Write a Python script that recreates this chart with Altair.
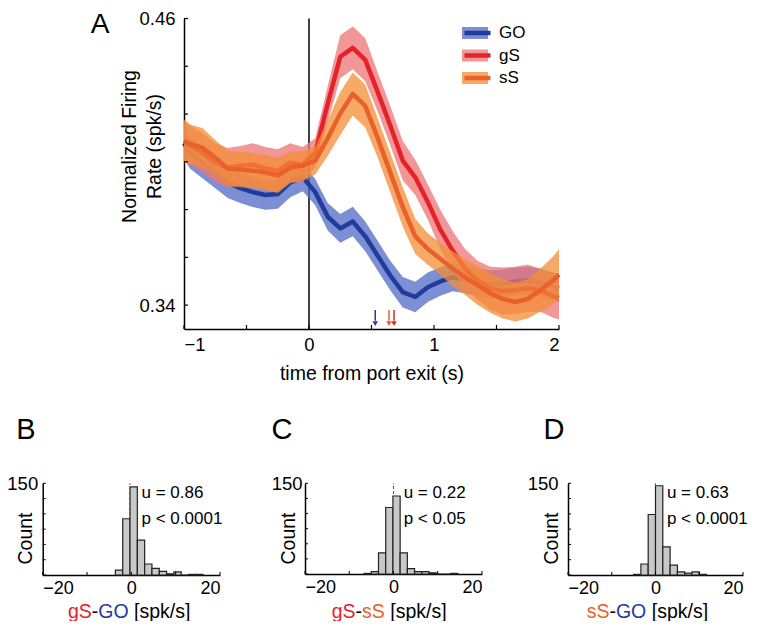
import altair as alt
import pandas as pd

FONT = "Liberation Sans"

# ---------------- Panel A data ----------------
T = [-1.05, -0.95, -0.85, -0.75, -0.65, -0.55, -0.45, -0.35, -0.25, -0.15, -0.05,
     0.05, 0.15, 0.25, 0.35, 0.45, 0.55, 0.65, 0.75, 0.85, 0.95, 1.05, 1.15, 1.25,
     1.35, 1.45, 1.55, 1.65, 1.75, 1.85, 1.95, 2.05]

GO_mean = [0.4078, 0.4037, 0.3996, 0.3955, 0.3914, 0.3890, 0.3873, 0.3861, 0.3865, 0.3914,
           0.3935, 0.3873, 0.3770, 0.3721, 0.3750, 0.3688, 0.3606, 0.3524, 0.3454, 0.3434,
           0.3475, 0.3499, 0.3516, 0.3508, 0.3495, 0.3487, 0.3491, 0.3499, 0.3503, 0.3495,
           0.3479, 0.3471]
gS_mean = [0.4087, 0.4070, 0.4037, 0.3996, 0.3976, 0.3984, 0.3988, 0.3972, 0.3963, 0.3996,
           0.3988, 0.4037, 0.4243, 0.4440, 0.4477, 0.4427, 0.4292, 0.4152, 0.4005, 0.3935,
           0.3832, 0.3717, 0.3627, 0.3552, 0.3503, 0.3471, 0.3458, 0.3462, 0.3471, 0.3462,
           0.3438, 0.3430]
sS_mean = [0.4087, 0.4074, 0.4058, 0.4017, 0.3972, 0.3968, 0.3963, 0.3955, 0.3943, 0.3976,
           0.3984, 0.4005, 0.4099, 0.4202, 0.4284, 0.4234, 0.4099, 0.3955, 0.3811, 0.3688,
           0.3635, 0.3594, 0.3552, 0.3516, 0.3483, 0.3450, 0.3426, 0.3413, 0.3426, 0.3462,
           0.3503, 0.3528]

GO_sem = [0.0066, 0.0066, 0.0066, 0.0066, 0.0066, 0.0062, 0.0062, 0.0062, 0.0062, 0.0062,
          0.0058, 0.0055, 0.0058, 0.0060, 0.0062, 0.0062, 0.0062, 0.0062, 0.0064, 0.0064,
          0.0062, 0.0060, 0.0058, 0.0058, 0.0058, 0.0058, 0.0058, 0.0058, 0.0058, 0.0058,
          0.0058, 0.0058]
gS_sem = [0.0082, 0.0082, 0.0082, 0.0082, 0.0082, 0.0082, 0.0090, 0.0090, 0.0090, 0.0082,
          0.0074, 0.0062, 0.0074, 0.0090, 0.0090, 0.0090, 0.0082, 0.0082, 0.0082, 0.0074,
          0.0074, 0.0082, 0.0082, 0.0082, 0.0082, 0.0090, 0.0099, 0.0099, 0.0099, 0.0090,
          0.0090, 0.0090]
sS_sem = [0.0090, 0.0082, 0.0082, 0.0074, 0.0074, 0.0074, 0.0074, 0.0074, 0.0074, 0.0066,
          0.0062, 0.0058, 0.0074, 0.0090, 0.0090, 0.0090, 0.0082, 0.0082, 0.0082, 0.0074,
          0.0066, 0.0066, 0.0074, 0.0074, 0.0082, 0.0082, 0.0082, 0.0082, 0.0082, 0.0090,
          0.0099, 0.0107]

SERIES = ["GO", "gS", "sS"]
LINE_COLORS = ["#213c9c", "#e4222a", "#e8602c"]
BAND_COLORS = ["#5069c6", "#ee7474", "#f48e36"]

ARROW_T = [0.53, 0.64, 0.68]
ARROW_COLORS = ["#213c9c", "#e8602c", "#e4222a"]

X_TICKS_A = [-1, -0.5, 0, 0.5, 1, 1.5, 2]
X_LABELS_A = [-1, 0, 1, 2]
Y_TICKS_A = [0.34, 0.36, 0.38, 0.40, 0.42, 0.44, 0.46]
Y_LABELS_A = [0.34, 0.46]

# ---------------- Histogram data ----------------
B_bin_lo = [-3.6, -1.95, -0.3, 1.35, 3.0, 4.65, 6.3, 7.95, 9.6, 11.25, 12.9, 14.55]
B_counts = [8, 92, 144, 57, 18, 11, 6, 2, 5, 0, 1, 1]
C_bin_lo = [-6.65, -5.02, -3.39, -1.76, -0.13, 1.5, 3.13, 4.76, 6.39, 8.02, 9.65, 11.28, 12.91]
C_counts = [1, 4, 35, 110, 129, 35, 9, 4, 4, 2, 0, 0, 1]
D_bin_lo = [-5.0, -3.34, -1.67, 0.0, 1.67, 3.34, 5.0, 6.67, 8.34, 10.0]
D_counts = [1, 18, 99, 146, 46, 16, 5, 3, 5, 1]
BIN_W = [1.65, 1.63, 1.67]
H_X_TICKS = [-20, -10, 0, 10, 20]
H_X_LABELS = [-20, 0, 20]
H_Y_TICKS = [0, 25, 50, 75, 100, 125, 150]
H_Y_LABELS = [150]
U_TEXT = ["u = 0.86", "u = 0.22", "u = 0.63"]
P_TEXT = ["p < 0.0001", "p < 0.05", "p < 0.0001"]
TXT_X = [2.3, 2.3, 2.6]
TXT_Y = [134, 91]
DASH_X = [-0.3, 0.0, 0.0]
LETTERS = ["B", "C", "D"]
XLAB_A = ["gS", "gS", "sS"]
XLAB_B = ["GO", "sS", "GO"]
XLAB_UNIT = "[spk/s]"
XLAB_COL_A = ["#e4222a", "#e4222a", "#e8602c"]
XLAB_COL_B = ["#213c9c", "#e8602c", "#213c9c"]

# ---------------- layout (pixels inside the 744x613 view) ----------------
VW, VH = 744, 613
A_X = [176, 551]
A_Y = [321, 10.5]
H_XR = [[34.7, 212], [297, 474], [560, 735]]
H_YR = [[567, 475.3], [566, 475.3], [567, 475.3]]
H_YLAB_PAD = [5, 3, 10]
LETTER_POS = [(18, 431), (274, 431), (546, 431)]
XLAB_POS = [(60, 609.5), (323.7, 609.5), (578.7, 609.5)]
XLAB_FS = 19.5
TICK = 4
# Arial/Liberation Sans advance widths (em) for the characters of the x labels
ADV = {"g": 0.556, "S": 0.667, "s": 0.5, "G": 0.778, "O": 0.778, "-": 0.333, " ": 0.278}

rows = []
for name, m, s in zip(SERIES, [GO_mean, gS_mean, sS_mean], [GO_sem, gS_sem, sS_sem]):
    for t, mv, sv in zip(T, m, s):
        rows.append({"series": name, "series_s": name + " ", "t": t, "mean": mv,
                     "lo": mv - sv, "hi": mv + sv})
dfA = pd.DataFrame(rows)


def xA():
    return alt.Scale(domain=[-1, 2], range=A_X, nice=False, zero=False, clamp=True)


def yA():
    return alt.Scale(domain=[0.33, 0.46], range=A_Y, nice=False, zero=False)


fill_scale = alt.Scale(domain=SERIES, range=BAND_COLORS)
stroke_scale = alt.Scale(domain=[s + " " for s in SERIES], range=LINE_COLORS)

leg_common = dict(orient="none", legendX=454, legendY=16.5, title=None, symbolSize=676,
                  labelFontSize=17, labelFont=FONT, labelOffset=11, clipHeight=17,
                  rowPadding=4.5, padding=0)
legend_fill = alt.Legend(symbolType="M-1,-0.46H1V0.46H-1Z", symbolOpacity=0.75,
                         symbolStrokeWidth=0, **leg_common)
legend_stroke = alt.Legend(symbolType="stroke", symbolStrokeWidth=4.5, labelExpr="''",
                           **leg_common)

lab_axis_x = alt.Axis(orient="bottom", offset=-(VH - A_Y[0]), values=X_LABELS_A,
                      format="d", ticks=False, tickSize=0, labelPadding=6,
                      labelFontSize=18.5, domain=True, domainColor="black",
                      domainWidth=1.5, grid=False, title="time from port exit (s)",
                      titleFontSize=19.5, titleFontWeight="normal", titleY=50,
                      titleBaseline="alphabetic", titleX=(A_X[0] + A_X[1]) / 2,
                      titleAlign="center")
lab_axis_y = alt.Axis(orient="left", offset=-A_X[0], values=Y_LABELS_A, format=".2f",
                      ticks=False, tickSize=0, labelPadding=9, labelFontSize=18.5,
                      domain=True, domainColor="black", domainWidth=1.5, grid=False,
                      title=["Normalized Firing", "Rate (spk/s)"], titleFontSize=19.5,
                      titleFontWeight="normal", titleAngle=270, titleX=-55,
                      titleY=138, titleBaseline="middle", titleAlign="center",
                      titleLineHeight=25)

layers = []
# zero line
layers.append(alt.Chart(pd.DataFrame({"t": [0], "y0": [0.33], "y1": [0.46]})).mark_rule(
    color="black", strokeWidth=1.5).encode(
    x=alt.X("t:Q", scale=xA(), axis=None), y=alt.Y("y0:Q", scale=yA(), axis=None),
    y2="y1:Q"))
for i, name in enumerate(SERIES):
    lx = lab_axis_x if i == 0 else None
    ly = lab_axis_y if i == 0 else None
    band = alt.Chart(dfA).transform_filter(alt.datum.series == name).mark_area(
        opacity=0.75).encode(
        x=alt.X("t:Q", scale=xA(), axis=lx),
        y=alt.Y("lo:Q", scale=yA(), axis=ly),
        y2="hi:Q",
        fill=alt.Fill("series:N", scale=fill_scale, legend=legend_fill))
    line = alt.Chart(dfA).transform_filter(alt.datum.series == name).mark_line(
        strokeWidth=4.5, strokeJoin="round").encode(
        x=alt.X("t:Q", scale=xA(), axis=None),
        y=alt.Y("mean:Q", scale=yA(), axis=None),
        stroke=alt.Stroke("series_s:N", scale=stroke_scale, legend=legend_stroke))
    layers += [band, line]

# inward ticks of panel A
layers.append(alt.Chart(pd.DataFrame({"x": X_TICKS_A, "y": [0.33] * len(X_TICKS_A)})).mark_rule(
    color="black", strokeWidth=1.2).encode(
    x=alt.X("x:Q", scale=xA(), axis=None), y=alt.Y("y:Q", scale=yA(), axis=None),
    y2=alt.value(A_Y[0] - TICK)))
layers.append(alt.Chart(pd.DataFrame({"y": Y_TICKS_A, "x": [-1] * len(Y_TICKS_A)})).mark_rule(
    color="black", strokeWidth=1.2).encode(
    y=alt.Y("y:Q", scale=yA(), axis=None), x=alt.X("x:Q", scale=xA(), axis=None),
    x2=alt.value(A_X[0] + TICK)))

dfArr = pd.DataFrame({"t": ARROW_T, "col": ARROW_COLORS, "y0": [0.3380] * 3,
                      "y1": [0.3335] * 3, "yh": [0.3322] * 3})
layers.append(alt.Chart(dfArr).mark_rule(strokeWidth=1.5).encode(
    x=alt.X("t:Q", scale=xA(), axis=None), y=alt.Y("y0:Q", scale=yA(), axis=None),
    y2="y1:Q", color=alt.Color("col:N", scale=None, legend=None)))
layers.append(alt.Chart(dfArr).mark_point(shape="triangle-down", filled=True, size=30,
                                         opacity=1).encode(
    x=alt.X("t:Q", scale=xA(), axis=None), y=alt.Y("yh:Q", scale=yA(), axis=None),
    color=alt.Color("col:N", scale=None, legend=None)))
layers.append(alt.Chart(pd.DataFrame({"a": [0]})).mark_text(
    fontSize=28, font=FONT, align="center", baseline="alphabetic", color="black").encode(
    x=alt.value(92), y=alt.value(25), text=alt.value("A")))


def text_width(s):
    return sum(ADV[ch] for ch in s) * XLAB_FS


def hist_layers(i, lo, counts):
    w = BIN_W[i]
    df = pd.DataFrame({"lo": lo, "hi": [v + w for v in lo], "count": counts,
                       "zero": [0] * len(lo)})
    xr, yr = H_XR[i], H_YR[i]

    def xs():
        return alt.Scale(domain=[-20, 20], range=xr, nice=False, zero=False)

    def ys():
        return alt.Scale(domain=[0, 150], range=yr, nice=False, zero=False)

    lay = []
    dash_df = pd.DataFrame({"x": [DASH_X[i]], "y0": [0], "y1": [150]})
    lay.append(alt.Chart(dash_df).mark_rule(strokeDash=[3, 2], color="#555555",
                                            strokeWidth=1).encode(
        x=alt.X("x:Q", scale=xs(), axis=None),
        y=alt.Y("y0:Q", scale=ys(), axis=None), y2="y1:Q"))
    lay.append(alt.Chart(df).mark_rect(fill="#c8c8c8", stroke="#222222",
                                       strokeWidth=1.2).encode(
        x=alt.X("lo:Q", scale=xs(), axis=alt.Axis(
            orient="bottom", offset=-(VH - yr[0]), values=H_X_LABELS, format="d",
            ticks=False, tickSize=0, labelPadding=4, labelFontSize=18, domain=True,
            domainColor="black", domainWidth=1.5, grid=False, title=None)),
        x2="hi:Q",
        y=alt.Y("count:Q", scale=ys(), axis=alt.Axis(
            orient="left", offset=-xr[0], values=H_Y_LABELS, format="d", ticks=False,
            tickSize=0, labelPadding=H_YLAB_PAD[i], labelFontSize=18.5, domain=True,
            domainColor="black", domainWidth=1.5, grid=False, title="Count",
            titleFontSize=19.5, titleFontWeight="normal", titleAngle=270, titleX=-17,
            titleY=530, titleBaseline="middle", titleAlign="center")),
        y2="zero:Q"))
    lay.append(alt.Chart(pd.DataFrame({"x": H_X_TICKS, "y": [0] * len(H_X_TICKS)})).mark_rule(
        color="black", strokeWidth=1).encode(
        x=alt.X("x:Q", scale=xs(), axis=None), y=alt.Y("y:Q", scale=ys(), axis=None),
        y2=alt.value(yr[0] - 3)))
    lay.append(alt.Chart(pd.DataFrame({"y": H_Y_TICKS, "x": [-20] * len(H_Y_TICKS)})).mark_rule(
        color="black", strokeWidth=1).encode(
        y=alt.Y("y:Q", scale=ys(), axis=None), x=alt.X("x:Q", scale=xs(), axis=None),
        x2=alt.value(xr[0] + 3)))
    txt_df = pd.DataFrame({"x": [TXT_X[i]] * 2, "y": TXT_Y,
                           "text": [U_TEXT[i], P_TEXT[i]]})
    lay.append(alt.Chart(txt_df).mark_text(align="left", baseline="middle", fontSize=17,
                                           font=FONT, color="black").encode(
        x=alt.X("x:Q", scale=xs(), axis=None), y=alt.Y("y:Q", scale=ys(), axis=None),
        text="text:N"))
    a, b = XLAB_A[i], XLAB_B[i]
    px, py = XLAB_POS[i]
    segs = [(a, XLAB_COL_A[i], a), ("-", "black", "-"), (b, XLAB_COL_B[i], b + " "),
            (XLAB_UNIT, "black", "")]
    xpos = px
    for s, c, adv in segs:
        lay.append(alt.Chart(pd.DataFrame({"s": [s]})).mark_text(
            align="left", baseline="alphabetic", fontSize=XLAB_FS, font=FONT,
            color=c).encode(x=alt.value(xpos), y=alt.value(py), text="s:N"))
        xpos += text_width(adv)
    lx, ly = LETTER_POS[i]
    lay.append(alt.Chart(pd.DataFrame({"a": [0]})).mark_text(
        fontSize=29, font=FONT, align="center", baseline="alphabetic", color="black").encode(
        x=alt.value(lx), y=alt.value(ly), text=alt.value(LETTERS[i])))
    return lay


layers += hist_layers(0, B_bin_lo, B_counts)
layers += hist_layers(1, C_bin_lo, C_counts)
layers += hist_layers(2, D_bin_lo, D_counts)

chart = alt.layer(*layers).resolve_scale(
    x="independent", y="independent"
).resolve_axis(
    x="independent", y="independent"
).properties(
    width=VW, height=VH, padding=0, autosize=alt.AutoSizeParams(type="none")
).configure_view(stroke=None).configure_axis(
    labelFont=FONT, titleFont=FONT, labelColor="black", titleColor="black"
).configure_legend(labelFont=FONT).configure_text(font=FONT)

chart.save("out.html", embed_options={"renderer": "svg", "actions": False})
